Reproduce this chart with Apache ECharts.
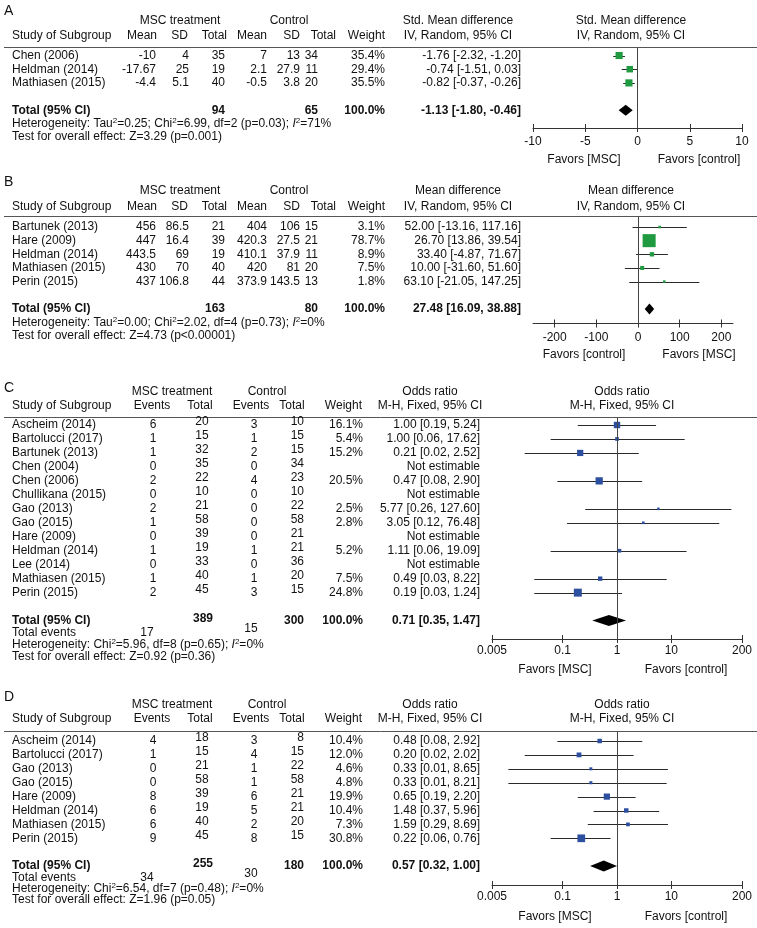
<!DOCTYPE html>
<html><head><meta charset="utf-8">
<script src="https://cdn.jsdelivr.net/npm/echarts@6/dist/echarts.min.js"></script>
<style>html,body{margin:0;padding:0;background:#fff}#c{width:757px;height:928px}</style>
</head><body><div id="c"></div>
<script>
// ================= DATA =================
// Panel A
const aStudies = ['Chen (2006)', 'Heldman (2014)', 'Mathiasen (2015)'];
const aMscMean = ['-10', '-17.67', '-4.4'];
const aMscSD = ['4', '25', '5.1'];
const aMscN = [35, 19, 40];
const aCtlMean = ['7', '2.1', '-0.5'];
const aCtlSD = ['13', '27.9', '3.8'];
const aCtlN = [34, 11, 20];
const aWeight = [35.4, 29.4, 35.5];
const aEst = [-1.76, -0.74, -0.82];
const aLow = [-2.32, -1.51, -1.37];
const aHigh = [-1.20, 0.03, -0.26];
const aEffText = ['-1.76 [-2.32, -1.20]', '-0.74 [-1.51, 0.03]', '-0.82 [-0.37, -0.26]'];
const aTotalN = [94, 65];
const aTotalEff = [-1.13, -1.80, -0.46];
const aTotalText = '-1.13 [-1.80, -0.46]';
const aTicks = [-10, -5, 0, 5, 10];
const aTickLabels = ['-10', '-5', '0', '5', '10'];
const aRange = [-10, 10];
const aFoot = ['Heterogeneity: Tau{s|2}=0.25; Chi{s|2}=6.99, df=2 (p=0.03); {i|I}{s|2}=71%', 'Test for overall effect: Z=3.29 (p=0.001)'];
const aFavors = ['Favors [MSC]', 'Favors [control]'];

// Panel B
const bStudies = ['Bartunek (2013)', 'Hare (2009)', 'Heldman (2014)', 'Mathiasen (2015)', 'Perin (2015)'];
const bMscMean = ['456', '447', '443.5', '430', '437'];
const bMscSD = ['86.5', '16.4', '69', '70', '106.8'];
const bMscN = [21, 39, 19, 40, 44];
const bCtlMean = ['404', '420.3', '410.1', '420', '373.9'];
const bCtlSD = ['106', '27.5', '37.9', '81', '143.5'];
const bCtlN = [15, 21, 11, 20, 13];
const bWeight = [3.1, 78.7, 8.9, 7.5, 1.8];
const bEst = [52.00, 26.70, 33.40, 10.00, 63.10];
const bLow = [-13.16, 13.86, -4.87, -31.60, -21.05];
const bHigh = [117.16, 39.54, 71.67, 51.60, 147.25];
const bEffText = ['52.00 [-13.16, 117.16]', '26.70 [13.86, 39.54]', '33.40 [-4.87, 71.67]', '10.00 [-31.60, 51.60]', '63.10 [-21.05, 147.25]'];
const bTotalN = [163, 80];
const bTotalEff = [27.48, 16.09, 38.88];
const bTotalText = '27.48 [16.09, 38.88]';
const bTicks = [-200, -100, 0, 100, 200];
const bTickLabels = ['-200', '-100', '0', '100', '200'];
const bRange = [-252, 228];
const bFoot = ['Heterogeneity: Tau{s|2}=0.00; Chi{s|2}=2.02, df=4 (p=0.73); {i|I}{s|2}=0%', 'Test for overall effect: Z=4.73 (p<0.00001)'];
const bFavors = ['Favors [control]', 'Favors [MSC]'];

// Panel C
const cStudies = ['Ascheim (2014)', 'Bartolucci (2017)', 'Bartunek (2013)', 'Chen (2004)', 'Chen (2006)', 'Chullikana (2015)', 'Gao (2013)', 'Gao (2015)', 'Hare (2009)', 'Heldman (2014)', 'Lee (2014)', 'Mathiasen (2015)', 'Perin (2015)'];
const cMscEv = [6, 1, 1, 0, 2, 0, 2, 1, 0, 1, 0, 1, 2];
const cMscN = [20, 15, 32, 35, 22, 10, 21, 58, 39, 19, 33, 40, 45];
const cCtlEv = [3, 1, 2, 0, 4, 0, 0, 0, 0, 1, 0, 1, 3];
const cCtlN = [10, 15, 15, 34, 23, 10, 22, 58, 21, 21, 36, 20, 15];
const cWeight = [16.1, 5.4, 15.2, null, 20.5, null, 2.5, 2.8, null, 5.2, null, 7.5, 24.8];
const cEst = [1.00, 1.00, 0.21, null, 0.47, null, 5.77, 3.05, null, 1.11, null, 0.49, 0.19];
const cLow = [0.19, 0.06, 0.02, null, 0.08, null, 0.26, 0.12, null, 0.06, null, 0.03, 0.03];
const cHigh = [5.24, 17.62, 2.52, null, 2.90, null, 127.60, 76.48, null, 19.09, null, 8.22, 1.24];
const cTotalN = [389, 300];
const cTotalEv = [17, 15];
const cTotalEff = [0.71, 0.35, 1.47];
const cFoot = ['Heterogeneity: Chi{s|2}=5.96, df=8 (p=0.65); {i|I}{s|2}=0%', 'Test for overall effect: Z=0.92 (p=0.36)'];
const orTicks = [0.005, 0.1, 1, 10, 200];
const orTickLabels = ['0.005', '0.1', '1', '10', '200'];
const orRange = [0.005, 200];
const cFavors = ['Favors [MSC]', 'Favors [control]'];

// Panel D
const dStudies = ['Ascheim (2014)', 'Bartolucci (2017)', 'Gao (2013)', 'Gao (2015)', 'Hare (2009)', 'Heldman (2014)', 'Mathiasen (2015)', 'Perin (2015)'];
const dMscEv = [4, 1, 0, 0, 8, 6, 6, 9];
const dMscN = [18, 15, 21, 58, 39, 19, 40, 45];
const dCtlEv = [3, 4, 1, 1, 6, 5, 2, 8];
const dCtlN = [8, 15, 22, 58, 21, 21, 20, 15];
const dWeight = [10.4, 12.0, 4.6, 4.8, 19.9, 10.4, 7.3, 30.8];
const dEst = [0.48, 0.20, 0.33, 0.33, 0.65, 1.48, 1.59, 0.22];
const dLow = [0.08, 0.02, 0.01, 0.01, 0.19, 0.37, 0.29, 0.06];
const dHigh = [2.92, 2.02, 8.65, 8.21, 2.20, 5.96, 8.69, 0.76];
const dTotalN = [255, 180];
const dTotalEv = [34, 30];
const dTotalEff = [0.57, 0.32, 1.00];
const dFoot = ['Heterogeneity: Chi{s|2}=6.54, df=7 (p=0.48); {i|I}{s|2}=0%', 'Test for overall effect: Z=1.96 (p=0.05)'];
const dFavors = ['Favors [MSC]', 'Favors [control]'];

// ================= LAYOUT / STYLE =================
const FONT = "'Liberation Sans', Arial, Helvetica, sans-serif";
const TXT = '#111';
const GREEN = '#1f9a40';
const BLUE = '#2d4f9f';
const LA = {letter:'A', letterY:11, grpY:21, hdrY:36, lineY:47, row0:55.5, step:13.7, foot:[124, 136.5], axisY:128, favY:160, plotL:533, plotR:742, k:1.2, color:GREEN, tickMargin:8};
const LB = {letter:'B', letterY:182, grpY:191, hdrY:207, lineY:216, row0:227, step:13.65, foot:[323, 336], axisY:323.5, favY:355, plotL:533, plotR:733, k:1.47, color:GREEN, tickMargin:8};
const LC = {letter:'C', letterY:388, grpY:392, hdrY:406, lineY:417, row0:425, step:13.97, foot:[633, 645, 657], axisY:639, favY:670, plotL:492, plotR:742, k:1.6, color:BLUE, tickMargin:6};
const LD = {letter:'D', letterY:697, grpY:705, hdrY:719, lineY:731, row0:741, step:13.9, foot:[878, 889, 900], axisY:885, favY:917, plotL:492, plotR:742, k:1.39, color:BLUE, tickMargin:6};

const els = [];
function txt(x, y, s, align, bold, size, fill) {
  els.push({type:'text', x:x, y:y, silent:true, z:10,
    style:{text:String(s), fill:fill||TXT, font:(bold?'bold ':'') + (size||12) + 'px ' + FONT,
      align:align||'left', verticalAlign:'middle', textAlign:align||'left', textVerticalAlign:'middle'}});
}
function richTxt(x, y, s) {
  els.push({type:'text', x:x, y:y, silent:true, z:10,
    style:{text:s, fill:TXT, font:'12px ' + FONT, align:'left', verticalAlign:'middle',
      rich:{s:{fontSize:8, fontFamily:FONT, fill:TXT, verticalAlign:'top', lineHeight:14},
            i:{fontSize:12, fontFamily:FONT, fontStyle:'italic', fill:TXT, lineHeight:14}}}});
}
function hline(x1, x2, y, color) {
  const yy = Math.round(y) + 0.5;
  els.push({type:'line', silent:true, z:5, shape:{x1:x1, y1:yy, x2:x2, y2:yy}, style:{stroke:color, lineWidth:1}});
}
function rowY(L, i) { return L.row0 + i * L.step; }
const fmtW = w => w == null ? '' : w.toFixed(1) + '%';
const fmtOR = (e, l, h) => e == null ? 'Not estimable' : e.toFixed(2) + ' [' + l.toFixed(2) + ', ' + h.toFixed(2) + ']';

// ---- continuous panels (A, B) text ----
function contText(L, studies, mM, mS, mN, cM, cS, cN, w, eff, totN, totText, hdr1, foot, fav) {
  txt(4, L.letterY, L.letter, 'left', false, 14);
  txt(180, L.grpY, 'MSC treatment', 'center');
  txt(289, L.grpY, 'Control', 'center');
  txt(458, L.grpY, hdr1, 'center');
  txt(458, L.hdrY, 'IV, Random, 95% CI', 'center');
  txt(631, L.grpY, hdr1, 'center');
  txt(631, L.hdrY, 'IV, Random, 95% CI', 'center');
  [['Study of Subgroup',12,'left'],['Mean',157,'right'],['SD',188,'right'],['Total',227,'right'],['Mean',267,'right'],['SD',300,'right'],['Total',336,'right'],['Weight',385,'right']]
    .forEach(h => txt(h[1], L.hdrY, h[0], h[2]));
  hline(4, 757, L.lineY, '#555');
  studies.forEach((s, i) => {
    const y = rowY(L, i);
    txt(12, y, s, 'left');
    txt(156, y, mM[i], 'right'); txt(189, y, mS[i], 'right'); txt(225, y, mN[i], 'right');
    txt(267, y, cM[i], 'right'); txt(300, y, cS[i], 'right'); txt(318, y, cN[i], 'right');
    txt(385, y, fmtW(w[i]), 'right'); txt(521, y, eff[i], 'right');
  });
  const ty = rowY(L, studies.length + 1);
  txt(12, ty, 'Total (95% CI)', 'left', true);
  txt(225, ty, totN[0], 'right', true);
  txt(318, ty, totN[1], 'right', true);
  txt(385, ty, '100.0%', 'right', true);
  txt(521, ty, totText, 'right', true);
  richTxt(12, L.foot[0], foot[0]);
  txt(12, L.foot[1], foot[1], 'left');
  txt(584, L.favY, fav[0], 'center');
  txt(699, L.favY, fav[1], 'center');
}
// ---- binary panels (C, D) text ----
function binText(L, studies, mE, mN, cE, cN, w, est, lo, hi, totN, totEv, totEff, foot, fav) {
  txt(4, L.letterY, L.letter, 'left', false, 14);
  txt(172, L.grpY, 'MSC treatment', 'center');
  txt(267, L.grpY, 'Control', 'center');
  txt(430, L.grpY, 'Odds ratio', 'center');
  txt(430, L.hdrY, 'M-H, Fixed, 95% CI', 'center');
  txt(622, L.grpY, 'Odds ratio', 'center');
  txt(622, L.hdrY, 'M-H, Fixed, 95% CI', 'center');
  [['Study of Subgroup',12,'left'],['Events',152,'center'],['Total',200,'center'],['Events',251,'center'],['Total',292,'center'],['Weight',362,'right']]
    .forEach(h => txt(h[1], L.hdrY, h[0], h[2]));
  hline(4, 757, L.lineY, '#555');
  studies.forEach((s, i) => {
    const y = rowY(L, i);
    txt(12, y, s, 'left');
    txt(153, y, mE[i], 'center'); txt(202, y - 3, mN[i], 'center');
    txt(254, y, cE[i], 'center'); txt(304, y - 3, cN[i], 'right');
    txt(363, y, fmtW(w[i]), 'right');
    txt(480, y, fmtOR(est[i], lo[i], hi[i]), 'right');
  });
  const ty = rowY(L, studies.length + 1);
  txt(12, ty, 'Total (95% CI)', 'left', true);
  txt(203, ty - 2, totN[0], 'center', true);
  txt(304, ty, totN[1], 'right', true);
  txt(363, ty, '100.0%', 'right', true);
  txt(480, ty, fmtOR(totEff[0], totEff[1], totEff[2]), 'right', true);
  txt(12, L.foot[0], 'Total events', 'left');
  txt(147, L.foot[0], totEv[0], 'center');
  txt(251, L.foot[0] - 4, totEv[1], 'center');
  richTxt(12, L.foot[1], foot[0]);
  txt(12, L.foot[2], foot[1], 'left');
  txt(555, L.favY, fav[0], 'center');
  txt(686, L.favY, fav[1], 'center');
}

contText(LA, aStudies, aMscMean, aMscSD, aMscN, aCtlMean, aCtlSD, aCtlN, aWeight, aEffText, aTotalN, aTotalText, 'Std. Mean difference', aFoot, aFavors);
contText(LB, bStudies, bMscMean, bMscSD, bMscN, bCtlMean, bCtlSD, bCtlN, bWeight, bEffText, bTotalN, bTotalText, 'Mean difference', bFoot, bFavors);
binText(LC, cStudies, cMscEv, cMscN, cCtlEv, cCtlN, cWeight, cEst, cLow, cHigh, cTotalN, cTotalEv, cTotalEff, cFoot, cFavors);
binText(LD, dStudies, dMscEv, dMscN, dCtlEv, dCtlN, dWeight, dEst, dLow, dHigh, dTotalN, dTotalEv, dTotalEff, dFoot, dFavors);

// ================= CHART =================
const grids = [], xAxes = [], yAxes = [], series = [];
function panel(idx, L, n, est, lo, hi, w, totEff, ticks, tickLabels, range, tf) {
  grids.push({left:L.plotL, width:L.plotR - L.plotL, top:Math.round(L.lineY) + 0.5, height:L.axisY - Math.round(L.lineY) - 0.5, containLabel:false});
  const tv = ticks.map(tf);
  const fmt = v => { const k = tv.findIndex(t => Math.abs(t - v) < 1e-6); return k >= 0 ? tickLabels[k] : ''; };
  xAxes.push({type:'value', gridIndex:idx, min:tf(range[0]), max:tf(range[1]), position:'bottom',
    axisLine:{show:true, onZero:false, lineStyle:{color:'#333', width:1}},
    axisTick:{show:true, inside:false, length:4, customValues:tv, lineStyle:{color:'#333'}},
    axisLabel:{show:true, customValues:tv, formatter:fmt, color:'#111', fontSize:12, fontFamily:FONT, margin:L.tickMargin},
    splitLine:{show:false}});
  xAxes.push({type:'value', gridIndex:idx, min:tf(range[0]), max:tf(range[1]), position:'bottom',
    axisLine:{show:false, onZero:false}, axisTick:{show:true, inside:true, length:4, customValues:tv, lineStyle:{color:'#333'}},
    axisLabel:{show:false}, splitLine:{show:false}});
  const yMin = (Math.round(L.lineY) + 0.5 - L.row0) / L.step;
  const yMax = (L.axisY - L.row0) / L.step;
  yAxes.push({type:'value', gridIndex:idx, inverse:true, min:yMin, max:yMax, show:false, splitLine:{show:false}});
  const xi = idx * 2;
  const ciData = [], sqData = [];
  for (let i = 0; i < n; i++) {
    if (est[i] == null) continue;
    ciData.push([tf(lo[i]), tf(hi[i]), i]);
    sqData.push([tf(est[i]), i, w[i]]);
  }
  series.push({type:'custom', xAxisIndex:xi, yAxisIndex:idx, silent:true, z:3, encode:{x:[0,1], y:2},
    renderItem:(p, api) => {
      const a = api.coord([api.value(0), api.value(2)]);
      const b = api.coord([api.value(1), api.value(2)]);
      const y = Math.round(a[1]) + 0.5;
      return {type:'line', shape:{x1:a[0], y1:y, x2:b[0], y2:y}, style:{stroke:'#2a2a2a', lineWidth:1}};
    }, data:ciData});
  series.push({type:'scatter', xAxisIndex:xi, yAxisIndex:idx, silent:true, z:4, symbol:'rect',
    symbolSize:v => Math.max(2.5, L.k * Math.sqrt(v[2])), itemStyle:{color:L.color, opacity:1},
    data:sqData,
    markLine:{silent:true, symbol:'none', label:{show:false}, animation:false,
      lineStyle:{color:'#444', width:1, type:'solid'}, data:[{xAxis:tf(range[0] > 0 ? 1 : 0)}]}});
  series.push({type:'custom', xAxisIndex:xi, yAxisIndex:idx, silent:true, z:4, encode:{x:[0,1,2], y:3},
    renderItem:(p, api) => {
      const l = api.coord([api.value(1), api.value(3)]);
      const m = api.coord([api.value(0), api.value(3)]);
      const r = api.coord([api.value(2), api.value(3)]);
      const h = 5.5;
      return {type:'polygon', shape:{points:[[l[0], m[1]], [m[0], m[1] - h], [r[0], m[1]], [m[0], m[1] + h]]}, style:{fill:'#000'}};
    }, data:[[tf(totEff[0]), tf(totEff[1]), tf(totEff[2]), n + 1]]});
}
const ident = v => v;
const lg = v => Math.log10(v);
panel(0, LA, aStudies.length, aEst, aLow, aHigh, aWeight, aTotalEff, aTicks, aTickLabels, aRange, ident);
panel(1, LB, bStudies.length, bEst, bLow, bHigh, bWeight, bTotalEff, bTicks, bTickLabels, bRange, ident);
panel(2, LC, cStudies.length, cEst, cLow, cHigh, cWeight, cTotalEff, orTicks, orTickLabels, orRange, lg);
panel(3, LD, dStudies.length, dEst, dLow, dHigh, dWeight, dTotalEff, orTicks, orTickLabels, orRange, lg);

const chart = echarts.init(document.getElementById('c'), null, {renderer:'canvas'});
chart.setOption({backgroundColor:'#fff', animation:false, grid:grids, xAxis:xAxes, yAxis:yAxes, series:series, graphic:{elements:els}});
</script></body></html>
